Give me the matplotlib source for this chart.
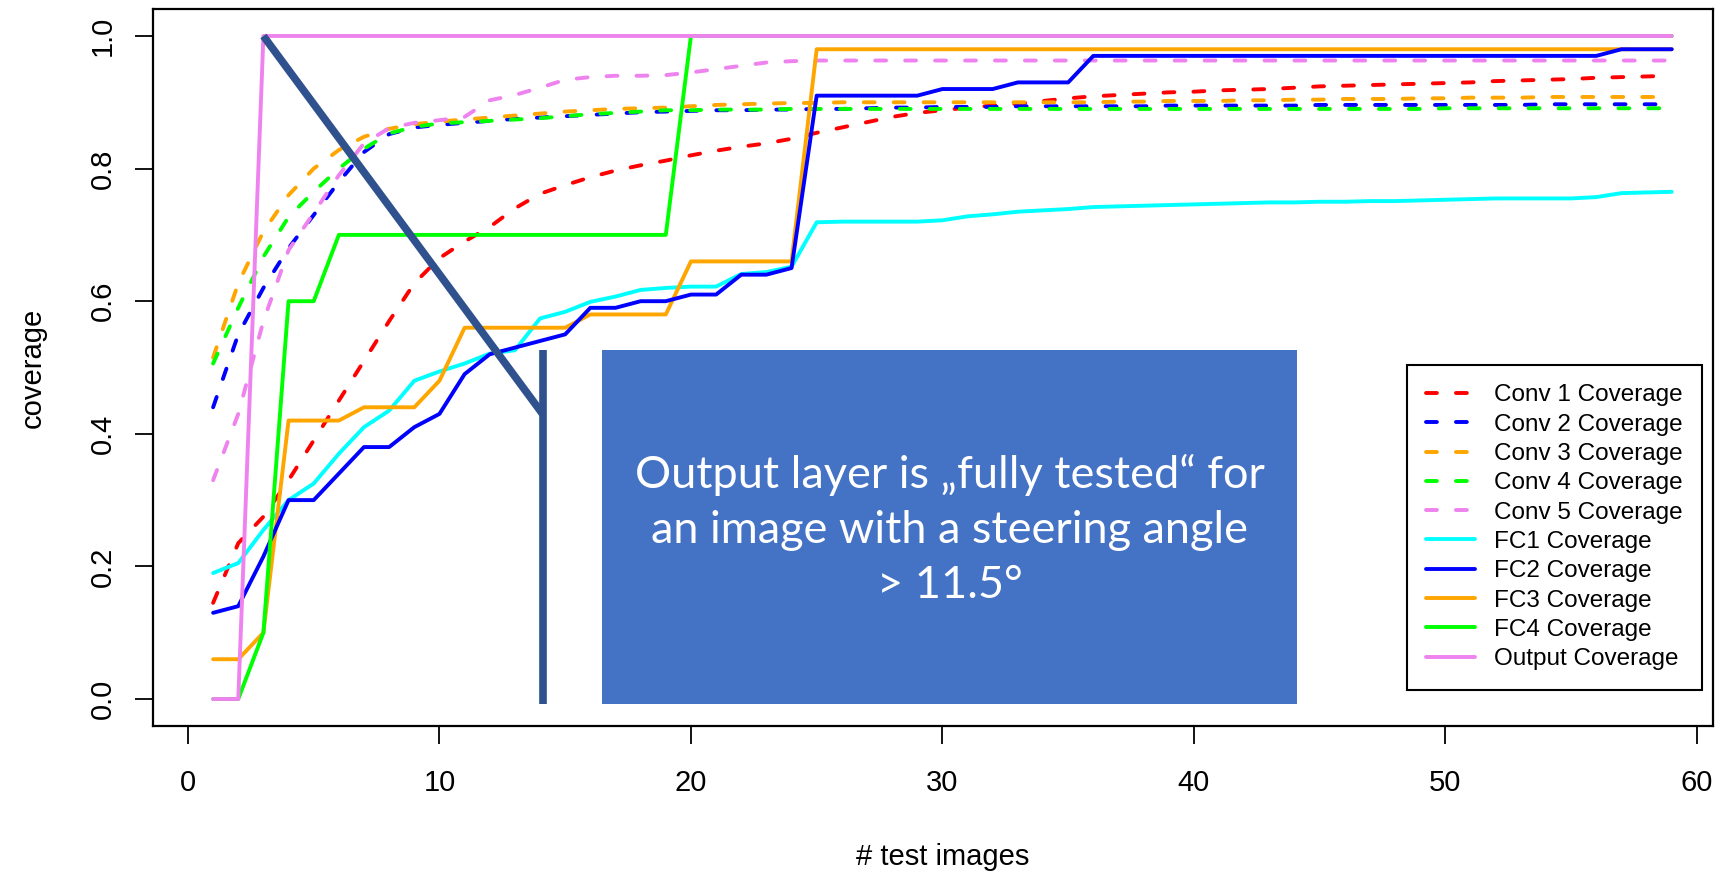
import matplotlib.pyplot as plt
from matplotlib.patches import Rectangle

plt.rcParams['font.family'] = ['Liberation Sans', 'DejaVu Sans']

images = list(range(1, 60))

conv1 = [0.145, 0.235, 0.275, 0.33, 0.39, 0.45, 0.51, 0.57, 0.627, 0.665,
         0.69, 0.712, 0.74, 0.762, 0.775, 0.787, 0.797, 0.805, 0.812, 0.82,
         0.827, 0.833, 0.838, 0.845, 0.854, 0.862, 0.87, 0.878, 0.884, 0.888,
         0.892, 0.895, 0.898, 0.902, 0.906, 0.909, 0.911, 0.913, 0.915, 0.916,
         0.918, 0.919, 0.92, 0.922, 0.924, 0.925, 0.926, 0.927, 0.928, 0.929,
         0.93, 0.932, 0.933, 0.934, 0.935, 0.937, 0.938, 0.939, 0.94]
conv2 = [0.44, 0.55, 0.62, 0.68, 0.73, 0.78, 0.825, 0.852, 0.862, 0.866,
         0.869, 0.872, 0.875, 0.877, 0.879, 0.881, 0.883, 0.885, 0.886, 0.887,
         0.888, 0.888, 0.889, 0.889, 0.89, 0.89, 0.891, 0.892, 0.892, 0.893,
         0.893, 0.893, 0.894, 0.894, 0.894, 0.894, 0.894, 0.894, 0.895, 0.895,
         0.895, 0.895, 0.895, 0.895, 0.896, 0.896, 0.896, 0.896, 0.896, 0.896,
         0.896, 0.896, 0.896, 0.897, 0.897, 0.897, 0.897, 0.897, 0.897]
conv3 = [0.515, 0.627, 0.705, 0.76, 0.8, 0.828, 0.848, 0.86, 0.867, 0.871,
         0.874, 0.877, 0.88, 0.883, 0.886, 0.888, 0.89, 0.891, 0.892, 0.894,
         0.896, 0.897, 0.898, 0.899, 0.899, 0.9, 0.9, 0.9, 0.9, 0.9,
         0.9, 0.9, 0.9, 0.9, 0.9, 0.9, 0.901, 0.901, 0.902, 0.902,
         0.902, 0.903, 0.903, 0.904, 0.904, 0.905, 0.905, 0.905, 0.906, 0.906,
         0.907, 0.907, 0.907, 0.908, 0.908, 0.908, 0.908, 0.908, 0.908]
conv4 = [0.506, 0.59, 0.667, 0.727, 0.765, 0.8, 0.83, 0.853, 0.863, 0.868,
         0.87, 0.872, 0.874, 0.876, 0.879, 0.882, 0.884, 0.886, 0.888, 0.888,
         0.889, 0.889, 0.889, 0.89, 0.89, 0.89, 0.89, 0.89, 0.89, 0.89,
         0.89, 0.89, 0.89, 0.89, 0.89, 0.89, 0.89, 0.89, 0.89, 0.89,
         0.89, 0.89, 0.89, 0.89, 0.89, 0.89, 0.89, 0.89, 0.89, 0.891,
         0.891, 0.891, 0.891, 0.891, 0.891, 0.891, 0.891, 0.891, 0.891]
conv5 = [0.33, 0.43, 0.57, 0.677, 0.733, 0.79, 0.838, 0.861, 0.869, 0.873,
         0.878, 0.903, 0.911, 0.922, 0.934, 0.938, 0.94, 0.94, 0.941, 0.945,
         0.95, 0.955, 0.96, 0.962, 0.963, 0.963, 0.963, 0.963, 0.963, 0.963,
         0.963, 0.963, 0.963, 0.963, 0.963, 0.963, 0.963, 0.963, 0.963, 0.963,
         0.963, 0.963, 0.963, 0.963, 0.963, 0.963, 0.963, 0.963, 0.963, 0.963,
         0.963, 0.963, 0.963, 0.963, 0.963, 0.963, 0.963, 0.963, 0.963]
fc1 = [0.19, 0.205, 0.255, 0.3, 0.325, 0.37, 0.41, 0.435, 0.48, 0.494,
       0.506, 0.521, 0.526, 0.574, 0.584, 0.599, 0.607, 0.617, 0.62, 0.622,
       0.622, 0.641, 0.644, 0.652, 0.719, 0.72, 0.72, 0.72, 0.72, 0.722,
       0.728, 0.731, 0.735, 0.737, 0.739, 0.742, 0.743, 0.744, 0.745, 0.746,
       0.747, 0.748, 0.749, 0.749, 0.75, 0.75, 0.751, 0.751, 0.752, 0.753,
       0.754, 0.755, 0.755, 0.755, 0.755, 0.757, 0.763, 0.764, 0.765]
fc2 = [0.13, 0.14, 0.215, 0.3, 0.3, 0.34, 0.38, 0.38, 0.41, 0.43,
       0.49, 0.52, 0.53, 0.54, 0.55, 0.59, 0.59, 0.6, 0.6, 0.61,
       0.61, 0.64, 0.64, 0.65, 0.91, 0.91, 0.91, 0.91, 0.91, 0.92,
       0.92, 0.92, 0.93, 0.93, 0.93, 0.97, 0.97, 0.97, 0.97, 0.97,
       0.97, 0.97, 0.97, 0.97, 0.97, 0.97, 0.97, 0.97, 0.97, 0.97,
       0.97, 0.97, 0.97, 0.97, 0.97, 0.97, 0.98, 0.98, 0.98]
fc3 = [0.06, 0.06, 0.1, 0.42, 0.42, 0.42, 0.44, 0.44, 0.44, 0.48,
       0.56, 0.56, 0.56, 0.56, 0.56, 0.58, 0.58, 0.58, 0.58, 0.66,
       0.66, 0.66, 0.66, 0.66, 0.98, 0.98, 0.98, 0.98, 0.98, 0.98,
       0.98, 0.98, 0.98, 0.98, 0.98, 0.98, 0.98, 0.98, 0.98, 0.98,
       0.98, 0.98, 0.98, 0.98, 0.98, 0.98, 0.98, 0.98, 0.98, 0.98,
       0.98, 0.98, 0.98, 0.98, 0.98, 0.98, 0.98, 0.98, 0.98]
fc4 = [0.0, 0.0, 0.1, 0.6, 0.6, 0.7, 0.7, 0.7, 0.7, 0.7,
       0.7, 0.7, 0.7, 0.7, 0.7, 0.7, 0.7, 0.7, 0.7, 1.0,
       1.0, 1.0, 1.0, 1.0, 1.0, 1.0, 1.0, 1.0, 1.0, 1.0,
       1.0, 1.0, 1.0, 1.0, 1.0, 1.0, 1.0, 1.0, 1.0, 1.0,
       1.0, 1.0, 1.0, 1.0, 1.0, 1.0, 1.0, 1.0, 1.0, 1.0,
       1.0, 1.0, 1.0, 1.0, 1.0, 1.0, 1.0, 1.0, 1.0]
output = [0.0, 0.0, 1.0, 1.0, 1.0, 1.0, 1.0, 1.0, 1.0, 1.0,
          1.0, 1.0, 1.0, 1.0, 1.0, 1.0, 1.0, 1.0, 1.0, 1.0,
          1.0, 1.0, 1.0, 1.0, 1.0, 1.0, 1.0, 1.0, 1.0, 1.0,
          1.0, 1.0, 1.0, 1.0, 1.0, 1.0, 1.0, 1.0, 1.0, 1.0,
          1.0, 1.0, 1.0, 1.0, 1.0, 1.0, 1.0, 1.0, 1.0, 1.0,
          1.0, 1.0, 1.0, 1.0, 1.0, 1.0, 1.0, 1.0, 1.0]

labels = ['Conv 1 Coverage', 'Conv 2 Coverage', 'Conv 3 Coverage', 'Conv 4 Coverage',
          'Conv 5 Coverage', 'FC1 Coverage', 'FC2 Coverage', 'FC3 Coverage',
          'FC4 Coverage', 'Output Coverage']
series = [conv1, conv2, conv3, conv4, conv5, fc1, fc2, fc3, fc4, output]
colors = ['#FF0000', '#0000FF', '#FFA500', '#00FF00', '#EE82EE',
          '#00FFFF', '#0000FF', '#FFA500', '#00FF00', '#EE82EE']
dashed = [True, True, True, True, True, False, False, False, False, False]
layer = [2.0, 2.01, 2.02, 2.03, 2.04, 2.1, 2.3, 2.2, 2.4, 2.5]

# callout: pointer from the first full-coverage point down to the note box
pointer_x = [3, 14.1]
pointer_y = [1.0, 0.43]
bar_x = 14.1
bar_y = [0.526, -0.008]
note_x = [16.46, 44.1]
note_y = [-0.008, 0.526]
note_text = 'Output layer is \u201efully tested\u201c for\nan image with a steering angle\n> 11.5\u00b0'

fig = plt.figure(figsize=(17.16, 8.71), dpi=100)
ax = fig.add_axes([153 / 1716, 145 / 871, 1560 / 1716, 717 / 871])

for vals, lab, col, dsh, z in zip(series, labels, colors, dashed, layer):
    ax.plot(images, vals, color=col, lw=2.8, label=lab, zorder=z,
            linestyle=(0, (2.8, 4.9)) if dsh else '-',
            dash_capstyle='round', solid_capstyle='round', solid_joinstyle='round')

ax.set_xlim(-1.39, 60.64)
ax.set_ylim(-0.0407, 1.0407)
ax.set_xticks([0, 10, 20, 30, 40, 50, 60])
ax.set_yticks([0.0, 0.2, 0.4, 0.6, 0.8, 1.0])
ax.set_yticklabels(['0.0', '0.2', '0.4', '0.6', '0.8', '1.0'], rotation=90, va='center')
ax.tick_params(direction='out', length=13, width=1.3, labelsize=21, pad=13)
ax.tick_params(axis='x', pad=18)
for sp in ax.spines.values():
    sp.set_linewidth(1.6)

fig.text(33 / 1716, 1 - 368 / 871, 'coverage', rotation=90, ha='center', va='center', fontsize=21)
fig.text(943 / 1716, 1 - 857 / 871, '# test images', ha='center', va='center', fontsize=21)

leg = ax.legend(loc='upper left', bbox_to_anchor=(0.8038, 0.5035), borderaxespad=0,
                fontsize=17.5, handlelength=2.0, handletextpad=0.8, labelspacing=0.30,
                borderpad=0.8, fancybox=False, framealpha=1, edgecolor='black')
leg.get_frame().set_linewidth(1.5)
leg.set_zorder(4)

ax.plot(pointer_x, pointer_y, color='#2F528F', lw=5.5, solid_capstyle='butt', zorder=6, clip_on=False)
ax.plot([bar_x, bar_x], bar_y, color='#2F528F', lw=5.5, solid_capstyle='butt', zorder=6, clip_on=False)
ax.add_patch(Rectangle((note_x[0], note_y[0]), note_x[1] - note_x[0], note_y[1] - note_y[0],
                       facecolor='#4472C4', edgecolor='none', zorder=5, clip_on=False))
ax.text(sum(note_x) / 2, 0.255, note_text, color='white', fontsize=32.5, family=['Lato', 'DejaVu Sans'],
        ha='center', va='center', multialignment='center', linespacing=1.41, zorder=7)

fig.savefig('out.png', dpi=100)
